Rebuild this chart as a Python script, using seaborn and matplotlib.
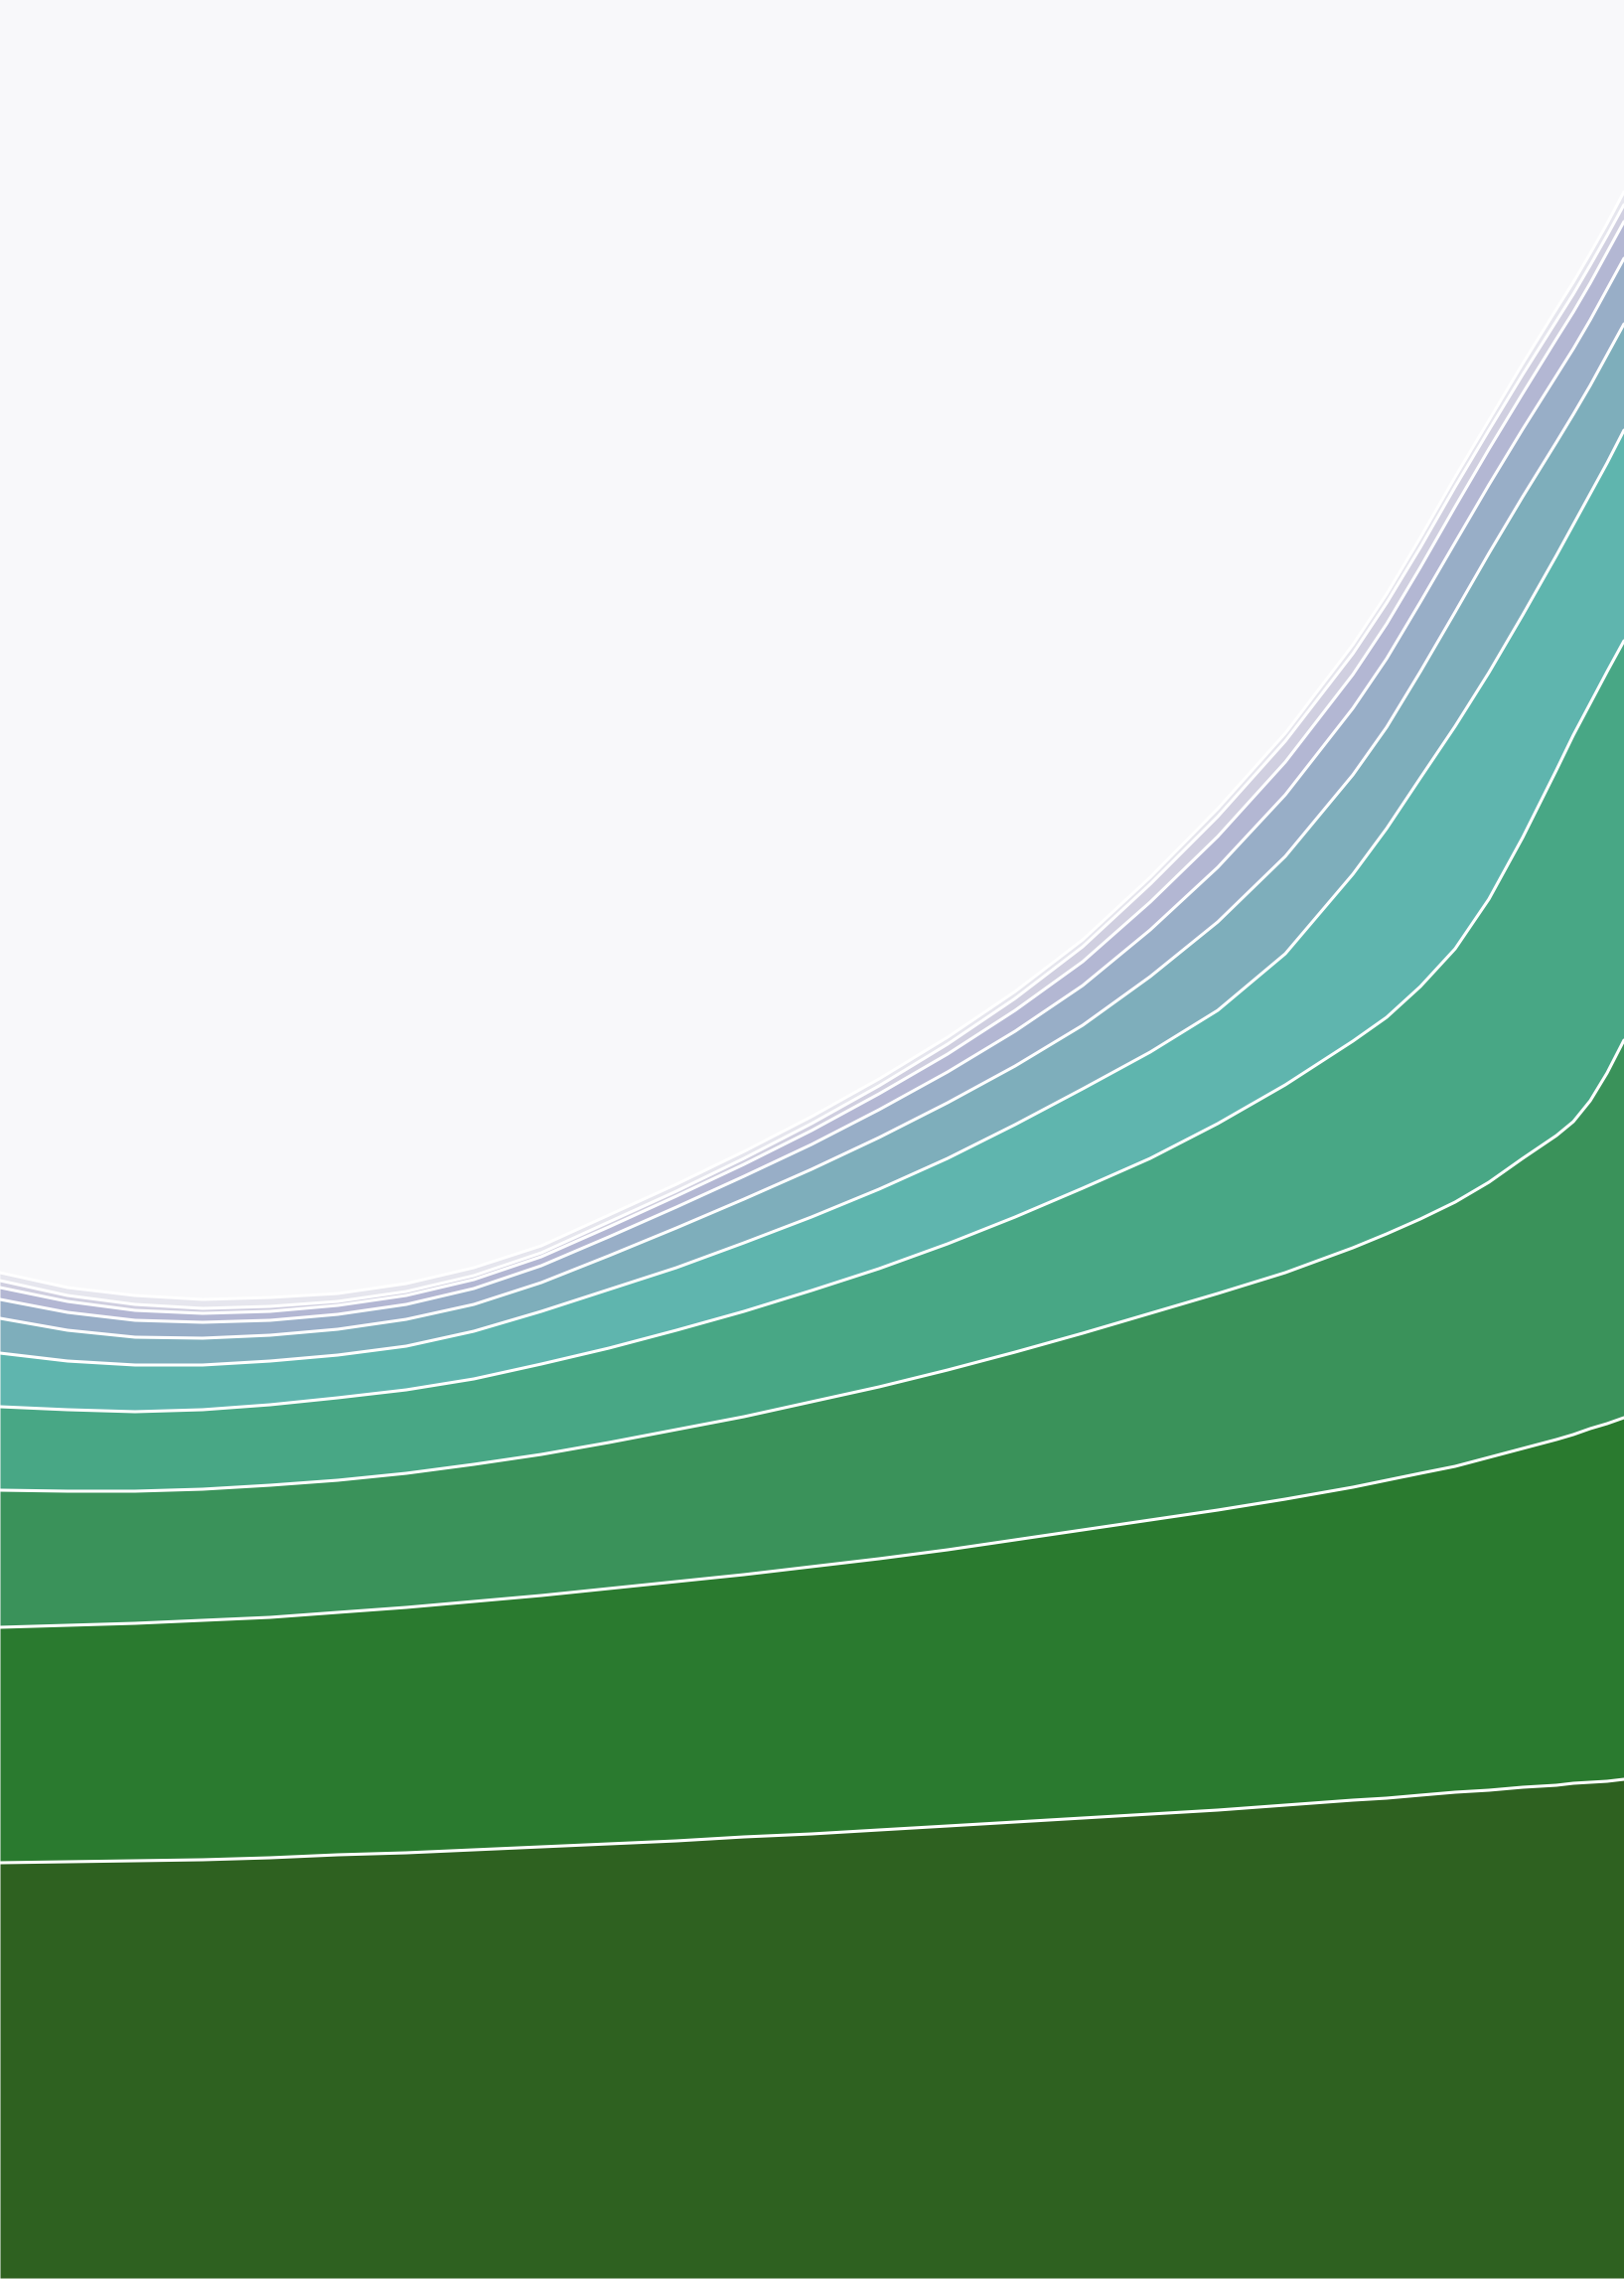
import numpy as np
import pandas as pd
import matplotlib
matplotlib.use("Agg")
import matplotlib.pyplot as plt
import seaborn as sns


BACKGROUND = "#f8f8fa"
LAYER_COLORS = [
    "#2e6120", "#2a7a2f", "#3a925a", "#48a785", "#5fb5ae",
    "#7eaebb", "#98aec7", "#b3b7d3", "#d0cfe0", "#e6e6ee",
]

x_vals = [0, 68, 136, 204, 272, 340, 409, 477, 545,
          613, 681, 749, 817, 885, 954, 1022, 1090,
          1158, 1226, 1294, 1362,
          1396, 1430, 1465, 1499, 1533, 1567,
          1584, 1601, 1618, 1635]

# layer values, bottom to top
layer_1 = [419, 420, 421, 422, 424, 427, 429, 432, 435,
           438, 441, 445, 448, 452, 456, 460, 464,
           468, 472, 477, 482,
           484, 487, 490, 492, 495, 497,
           499, 500, 501, 503]
layer_2 = [237, 238, 239, 241, 242, 244, 247, 250, 253,
           257, 261, 264, 269, 273, 278, 284, 290,
           296, 302, 308, 315,
           320, 324, 328, 335, 341, 348,
           351, 356, 360, 364]
layer_3 = [138, 135, 133, 132, 133, 133, 135, 138, 142,
           147, 153, 159, 166, 173, 181, 189, 198,
           208, 218, 228, 241,
           248, 256, 266, 277, 292, 306,
           315, 330, 353, 380]
layer_4 = [84, 82, 80, 80, 81, 83, 84, 86, 91,
           95, 100, 106, 112, 119, 127, 136, 146,
           156, 171, 189, 208,
           218, 234, 255, 285, 323, 368,
           389, 400, 404, 402]
layer_5 = [54, 49, 47, 45, 44, 43, 44, 48, 53,
           59, 63, 69, 74, 80, 86, 93, 100,
           107, 114, 132, 168,
           190, 210, 224, 228, 224, 216,
           212, 211, 210, 212]
layer_6 = [35, 31, 28, 27, 26, 26, 27, 27, 29,
           34, 40, 44, 48, 52, 56, 59, 64,
           76, 89, 98, 100,
           102, 107, 115, 120, 119, 114,
           111, 109, 109, 107]
layer_7 = [19, 18, 17, 16, 15, 15, 15, 16, 17,
           19, 21, 23, 25, 28, 31, 35, 40,
           47, 55, 62, 67,
           69, 70, 70, 69, 68, 67,
           66, 66, 66, 66]
layer_8 = [12, 11, 10, 9, 9, 9, 9, 9, 9,
           10, 11, 12, 14, 16, 18, 21, 24,
           28, 31, 33, 34,
           35, 35, 36, 36, 36, 37,
           37, 37, 37, 37]
layer_9 = [7, 6, 6, 5, 5, 4, 4, 4, 4,
           5, 5, 6, 7, 8, 10, 12, 15,
           18, 20, 21, 21,
           21, 20, 20, 19, 19, 18,
           18, 18, 17, 17]
layer_10 = [8, 8, 9, 9, 9, 8, 8, 8, 7,
            7, 7, 7, 7, 7, 7, 7, 7,
            7, 8, 8, 9,
            9, 10, 10, 10, 11, 12,
            12, 12, 12, 13]

layers = [layer_1, layer_2, layer_3, layer_4, layer_5,
          layer_6, layer_7, layer_8, layer_9, layer_10]


if __name__ == "__main__":
    sns.set_theme(style="white")

    fig = plt.figure(figsize=(16.35, 22.94), dpi=100, facecolor=BACKGROUND)
    ax = fig.add_axes([0, 0, 1, 1])

    ax.stackplot(x_vals, layers, colors=LAYER_COLORS, linewidth=0)

    # white edges on top of every layer
    tops = np.cumsum(np.array(layers), axis=0)
    edges = pd.DataFrame({
        "x": np.tile(x_vals, len(layers)),
        "y": tops.ravel(),
        "edge": np.repeat(np.arange(len(layers)), len(x_vals)),
    })
    sns.lineplot(
        data=edges,
        x="x",
        y="y",
        hue="edge",
        palette=["white"] * len(layers),
        linewidth=2.2,
        estimator=None,
        legend=False,
        solid_joinstyle="round",
        ax=ax
    )
    ax.axhline(0, color="white", linewidth=2.2, alpha=0.5)

    ax.set_xlim(0, 1635)
    ax.set_ylim(0, 2294)
    ax.axis("off")

    fig.savefig("out.png", dpi=100, facecolor=BACKGROUND)
    plt.close(fig)
